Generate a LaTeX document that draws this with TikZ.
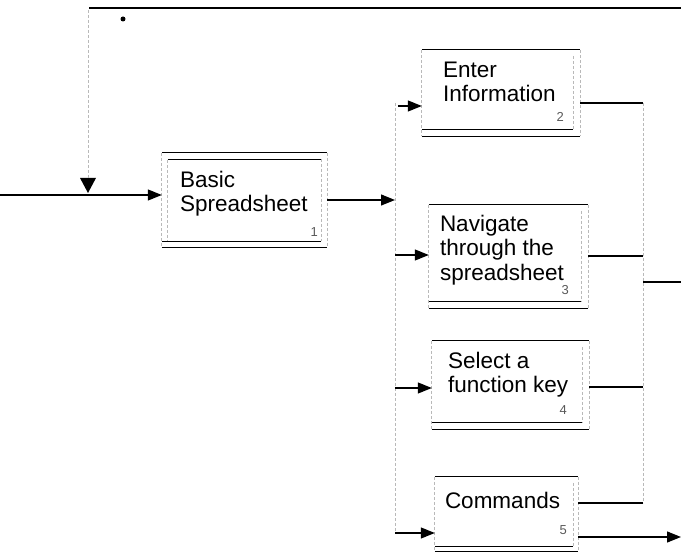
\documentclass[tikz,border=0pt]{standalone}
\usepackage{fontspec}
\setmainfont{Liberation Sans}
\usetikzlibrary{arrows.meta}
\usetikzlibrary{calc}

\tikzset{
  fn/.style={draw=none, inner sep=0pt},
  side/.style={gray!55, densely dashed, line width=0.7pt},
  edge/.style={black, line width=1.2pt},
  lbl/.style={inner sep=0pt, anchor=north west, align=left,
              font=\fontsize{22.5}{24.5}\selectfont},
  num/.style={inner sep=0pt, font=\fontsize{13}{14}\selectfont, text=black!65},
  arr/.style={edge, -{Triangle[length=14pt,width=11pt]}},
  tunnel/.style={gray!55, densely dashed, line width=0.7pt}
}

\begin{document}
\begin{tikzpicture}[x=1pt, y=-1pt]
    \useasboundingbox (0,0) rectangle (681,553);

    % kotak-kotak fungsi
    \node[fn, minimum width=165pt, minimum height=94pt]  (b1) at (244.5,200) {};
    \node[fn, minimum width=158pt, minimum height=86pt]  (b2) at (501,93)    {};
    \node[fn, minimum width=159pt, minimum height=103pt] (b3) at (508.5,256.5) {};
    \node[fn, minimum width=157pt, minimum height=88pt]  (b4) at (510.5,385) {};
    \node[fn, minimum width=143pt, minimum height=74pt]  (b5) at (506.5,514) {};

    % garis tepi kotak
    \foreach \b/\d in {b1/6, b2/7, b3/7, b4/7, b5/5} {
      \draw[edge] (\b.north west) -- (\b.north east);
      \draw[edge] (\b.south west) -- (\b.south east);
      \draw[side] (\b.north west) -- (\b.south west);
      \draw[side] (\b.north east) -- (\b.south east);
      \draw[edge] ($(\b.south west)+(0,-\d)$) -- ($(\b.south east)+(-\d,-\d)$);
      \draw[side] ($(\b.north east)+(-\d,6)$) -- ($(\b.south east)+(-\d,-\d)$);
    }
    \draw[edge] ($(b1.north west)+(6,7)$) -- ($(b1.north east)+(-6,7)$);
    \draw[side] ($(b1.north west)+(6,7)$) -- ($(b1.south west)+(6,-6)$);

    % teks kotak
    \node[lbl] (t1) at ([shift={(18,18)}]b1.north west) {Basic\\Spreadsheet};
    \node[lbl] (t2) at ([shift={(21,12)}]b2.north west) {Enter\\Information};
    \node[lbl] (t3) at ([shift={(11,10)}]b3.north west) {Navigate\\through the\\spreadsheet};
    \node[lbl] (t4) at ([shift={(16,11)}]b4.north west) {Select a\\function key};
    \node[lbl] (t5) at ([shift={(10,15)}]b5.north west) {Commands};

    % nomor kotak
    \node[num] (n1) at ([shift={(-13,-15)}]b1.south east) {1};
    \node[num] (n2) at ([shift={(-20,-19)}]b2.south east) {2};
    \node[num] (n3) at ([shift={(-23,-18)}]b3.south east) {3};
    \node[num] (n4) at ([shift={(-26,-19)}]b4.south east) {4};
    \node[num] (n5) at ([shift={(-15,-21)}]b5.south east) {5};

    % titik-titik bantu
    \coordinate (in)   at (0,195);
    \coordinate (tri)  at (88,193);
    \coordinate (top0) at (89,8);
    \coordinate (top1) at (681,8);
    \coordinate (dtop) at (88,10);
    \coordinate (sA)   at (395,103);
    \coordinate (sB)   at (395,533);
    \coordinate (mA)   at (643,103);
    \coordinate (mB)   at (643,503);
    \coordinate (mOut) at (681,282);
    \coordinate (out)  at (681,537);

    % masukan dan kontrol
    \draw[arr] (in) -- (in -| b1.west);
    \fill (tri) -- ++(-8,-15) -- ++(16,0) -- cycle;
    \draw[tunnel] (dtop) -- ($(tri)+(0,-15)$);
    \draw[edge] (top0) -- (top1);
    \fill (123,19) circle (2.5pt);

    % percabangan
    \draw[arr] (b1.east |- 0,200) -- (395,200);
    \draw[tunnel] (sA) -- (sB);
    \draw[arr] ($(sA)+(3,3)$) -- (b2.west |- 0,106);
    \draw[arr] (sA |- 0,255) -- (b3.west |- 0,255);
    \draw[arr] (sA |- 0,388) -- (b4.west |- 0,388);
    \draw[arr] (sB) -- (b5.west |- sB);

    % keluaran
    \draw[edge] (b2.east |- mA) -- (mA);
    \draw[edge] (b3.east |- 0,256) -- (mA |- 0,256);
    \draw[edge] (b4.east |- 0,387) -- (mA |- 0,387);
    \draw[edge] (b5.east |- mB) -- (mB);
    \draw[tunnel] (mA) -- (mB);
    \draw[edge] (mA |- mOut) -- (mOut);
    \draw[arr] (b5.east |- out) -- (out);
\end{tikzpicture}
\end{document}
